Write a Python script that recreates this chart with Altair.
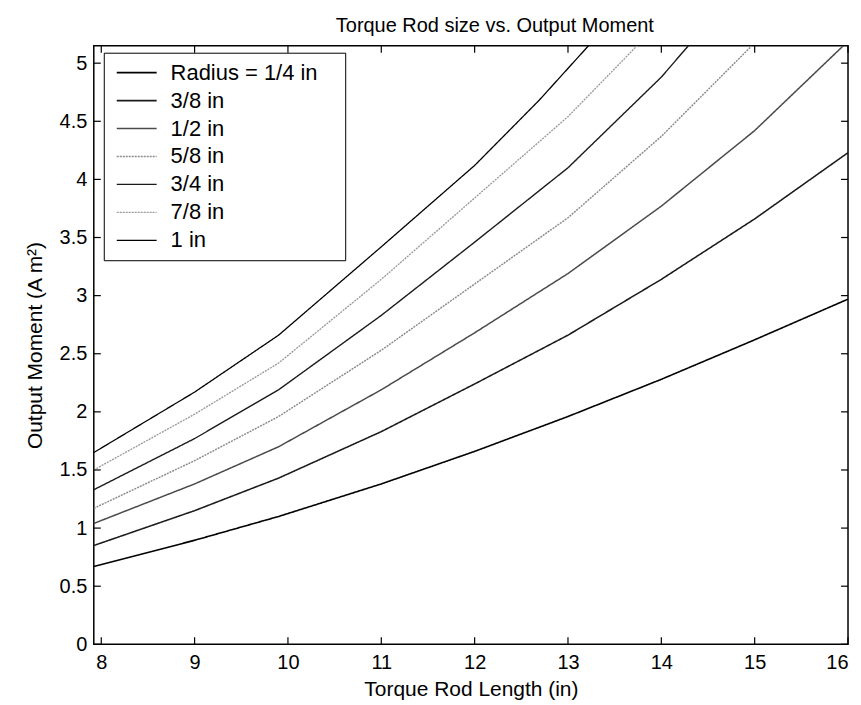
import altair as alt
import pandas as pd

# ---- data ----
series = ["Radius = 1/4 in", "3/8 in", "1/2 in", "5/8 in", "3/4 in", "7/8 in", "1 in"]

x_r1 = [7.92, 9, 9.9, 11, 12, 13, 14, 15, 16]
y_r1 = [0.67, 0.895, 1.10, 1.38, 1.66, 1.96, 2.28, 2.62, 2.97]

x_r2 = [7.92, 9, 9.9, 11, 12, 13, 14, 15, 16]
y_r2 = [0.85, 1.15, 1.43, 1.83, 2.24, 2.66, 3.14, 3.66, 4.23]

x_r3 = [7.92, 9, 9.9, 11, 12, 13, 14, 15, 15.95]
y_r3 = [1.04, 1.38, 1.70, 2.19, 2.68, 3.19, 3.77, 4.42, 5.15]

x_r4 = [7.92, 9, 9.9, 11, 12, 13, 14, 14.97]
y_r4 = [1.17, 1.58, 1.96, 2.53, 3.10, 3.67, 4.37, 5.15]

x_r5 = [7.92, 9, 9.9, 11, 12, 13, 14, 14.29]
y_r5 = [1.33, 1.77, 2.19, 2.83, 3.46, 4.10, 4.88, 5.15]

x_r6 = [7.92, 9, 9.9, 11, 12, 13, 13.74]
y_r6 = [1.50, 1.98, 2.42, 3.14, 3.84, 4.54, 5.15]

x_r7 = [7.92, 9, 9.9, 11, 12, 12.69, 13.22]
y_r7 = [1.65, 2.17, 2.66, 3.42, 4.12, 4.68, 5.15]

x_ticks = [8, 9, 10, 11, 12, 13, 14, 15, 16]
y_ticks = [0, 0.5, 1, 1.5, 2, 2.5, 3, 3.5, 4, 4.5, 5]

xs = [x_r1, x_r2, x_r3, x_r4, x_r5, x_r6, x_r7]
ys = [y_r1, y_r2, y_r3, y_r4, y_r5, y_r6, y_r7]

rows = []
for i, (name, xv, yv) in enumerate(zip(series, xs, ys)):
    for a, b in zip(xv, yv):
        rows.append({"series": name, "order": i, "length": a, "moment": b})
df = pd.DataFrame(rows)

colors = ["#000000", "#1a1a1a", "#4a4a4a", "#8a8a8a", "#1a1a1a", "#9a9a9a", "#000000"]
dashes = [[1, 0], [1, 0], [1, 0], [2, 1], [1, 0], [2, 1], [1, 0]]
widths = [1.6, 1.3, 1.2, 1.0, 1.4, 1.0, 1.6]

W, H = 756, 600
FONT = "Liberation Sans"

xscale = alt.Scale(domain=[7.92, 16], nice=False, zero=False)
yscale = alt.Scale(domain=[0, 5.15], nice=False, zero=False)

legend = alt.Legend(
    orient="none", legendX=10, legendY=7, title=None,
    strokeColor="black", fillColor="white", padding=9,
    labelFontSize=22, labelFont=FONT, labelColor="black",
    symbolType="M-2,0H2", symbolSize=400, symbolOffset=13, labelOffset=23,
    rowPadding=6, labelLimit=400,
    labelExpr="datum.label + '" + "\u00a0" * 3 + "\u200b'",
)

lines = alt.Chart(df).mark_line(clip=True).encode(
    x=alt.X("length:Q", scale=xscale,
            axis=alt.Axis(values=x_ticks, title="Torque Rod Length (in)", ticks=False,
                          domain=False, grid=False, labelPadding=8, titlePadding=6,
                          format="~g")),
    y=alt.Y("moment:Q", scale=yscale,
            axis=alt.Axis(values=y_ticks, title="Output Moment (A m²)", ticks=False,
                          domain=False, grid=False, labelPadding=7, titlePadding=14,
                          format="~g")),
    color=alt.Color("series:N", scale=alt.Scale(domain=series, range=colors), legend=legend),
    strokeDash=alt.StrokeDash("series:N", scale=alt.Scale(domain=series, range=dashes), legend=legend),
    strokeWidth=alt.StrokeWidth("series:N", scale=alt.Scale(domain=series, range=widths), legend=legend),
    order="length:Q",
    detail="series:N",
)

xt = pd.DataFrame({"t": x_ticks})
yt = pd.DataFrame({"t": y_ticks})
TL = 7
tick_b = alt.Chart(xt).mark_rule(color="black", strokeWidth=1.2).encode(
    x=alt.X("t:Q", scale=xscale), y=alt.value(H), y2=alt.value(H - TL))
tick_t = alt.Chart(xt).mark_rule(color="black", strokeWidth=1.2).encode(
    x=alt.X("t:Q", scale=xscale), y=alt.value(0), y2=alt.value(TL))
tick_l = alt.Chart(yt).mark_rule(color="black", strokeWidth=1.2).encode(
    y=alt.Y("t:Q", scale=yscale), x=alt.value(0), x2=alt.value(TL))
tick_r = alt.Chart(yt).mark_rule(color="black", strokeWidth=1.2).encode(
    y=alt.Y("t:Q", scale=yscale), x=alt.value(W), x2=alt.value(W - TL))

chart = alt.layer(lines, tick_b, tick_t, tick_l, tick_r).properties(
    width=W, height=H,
    background="white",
    title=alt.Title("Torque Rod size vs. Output Moment", fontSize=20, font=FONT,
                    fontWeight="normal", color="black", offset=9, dx=24),
    autosize=alt.AutoSizeParams(type="none"),
    padding={"left": 86, "top": 37, "right": 5, "bottom": 60},
).configure_view(
    stroke="black", strokeWidth=1.5
).configure_axis(
    labelFont=FONT, titleFont=FONT, labelFontSize=20, titleFontSize=21,
    labelColor="black", titleColor="black", titleFontWeight="normal",
).configure_title(
    fontSize=20, font=FONT, fontWeight="normal", color="black"
)

chart.save("out.html", embed_options={"renderer": "svg", "actions": False})
